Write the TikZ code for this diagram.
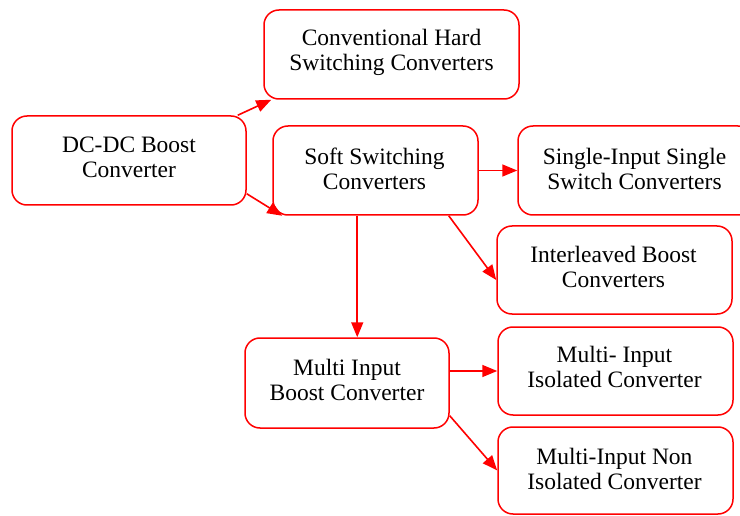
\documentclass[tikz,border=0pt]{standalone}
\usepackage{fontspec}
\setmainfont{Liberation Serif}
\usetikzlibrary{calc,arrows.meta}
\begin{document}
\begin{tikzpicture}[x=1pt,y=-1pt,
  box/.style={draw=red, line width=1.5pt, rounded corners=15pt, inner sep=0pt},
  txt/.style={align=center, inner sep=0pt, font=\fontsize{23.5}{25}\selectfont, text=black},
  conn/.style={draw=red, line width=1.6pt, -{Triangle[length=15pt,width=12pt]}}]
\useasboundingbox (0,0) rectangle (740,516);
\clip (0,0) rectangle (740,516);
\fill[white] (0,0) rectangle (740,516);
\node[box, minimum width=234pt, minimum height=89pt] (dc) at (129,160.5) {};
\node[box, minimum width=255pt, minimum height=89pt] (hard) at (391.5,54.5) {};
\node[box, minimum width=205pt, minimum height=89pt] (soft) at (375.5,170.5) {};
\node[box, minimum width=235pt, minimum height=89pt] (single) at (635.5,170.5) {};
\node[box, minimum width=235pt, minimum height=88pt] (inter) at (614.5,270) {};
\node[box, minimum width=204pt, minimum height=90pt] (multi) at (347,383) {};
\node[box, minimum width=235pt, minimum height=88pt] (iso) at (615.5,371) {};
\node[box, minimum width=235pt, minimum height=87pt] (noniso) at (615.5,470.5) {};
\node[txt] (dct) at ($(dc.center)+(0,-3)$) {DC-DC Boost\\Converter};
\node[txt] (hardt) at ($(hard.center)+(0,-2)$) {Conventional Hard\\Switching Converters};
\node[txt] (softt) at ($(soft.center)+(-1,-2)$) {Soft Switching\\Converters};
\node[txt] (singlet) at ($(single.center)+(-1,-2)$) {Single-Input Single\\Switch Converters};
\node[txt] (intert) at ($(inter.center)+(-1,-3)$) {Interleaved Boost\\Converters};
\node[txt] (multit) at ($(multi.center)+(0,-3)$) {Multi Input\\Boost Converter};
\node[txt] (isot) at ($(iso.center)+(-1,-4)$) {Multi- Input\\Isolated Converter};
\node[txt] (nonisot) at ($(noniso.center)+(-1,-2)$) {Multi-Input Non\\Isolated Converter};
\draw[conn] ($(dc.north east)+(-9,0)$) -- ($(hard.south west)+(8,0)$);
\draw[conn] ($(dc.south east)+(0,-12)$) -- ($(soft.south west)+(10,0)$);
\draw[conn] (soft.east) -- (single.west);
\draw[conn] ($(soft.south east)+(-30,0)$) -- ($(inter.west)+(0,10)$);
\draw[conn] ($(soft.south west)+(85,0)$) -- ($(multi.north west)+(113,0)$);
\draw[conn] (iso.west -| multi.east) -- (iso.west);
\draw[conn] ($(multi.south east)+(0,-13)$) -- (noniso.west);
\end{tikzpicture}
\end{document}
